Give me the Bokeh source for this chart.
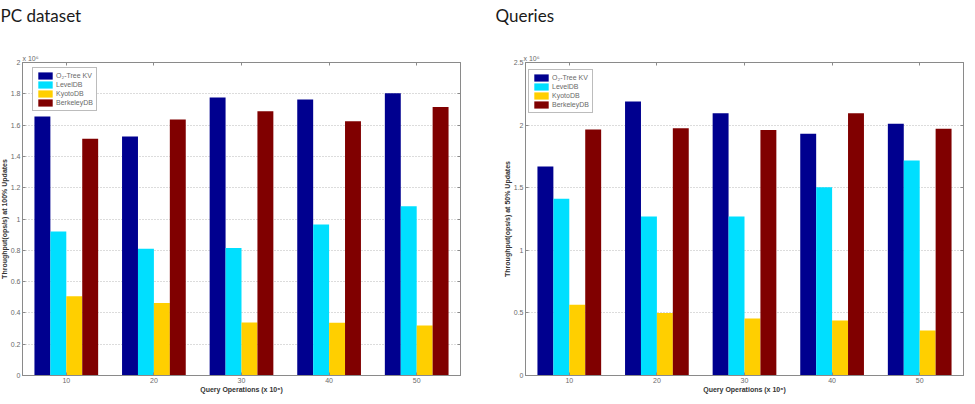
from bokeh.plotting import figure
from bokeh.layouts import row, column
from bokeh.models import (Range1d, FactorRange, FixedTicker, CustomJSTickFormatter, Legend,
                          LegendItem, Title, Label, LinearAxis, CategoricalAxis, ColumnDataSource)
from bokeh.transform import dodge
from bokeh.embed import file_html
from bokeh.resources import INLINE

categories = ["10", "20", "30", "40", "50"]
series = ["O\u2082-Tree KV", "LevelDB", "KyotoDB", "BerkeleyDB"]
colors = ["#00008F", "#00DFFF", "#FFCF00", "#800000"]

# Throughput (x 10^6 ops/s) at 100% updates
upd100_o2tree = [1.655, 1.527, 1.776, 1.763, 1.804]
upd100_leveldb = [0.920, 0.810, 0.815, 0.965, 1.082]
upd100_kyotodb = [0.507, 0.464, 0.339, 0.337, 0.320]
upd100_berkeleydb = [1.512, 1.636, 1.689, 1.625, 1.715]

# Throughput (x 10^6 ops/s) at 50% updates
upd50_o2tree = [1.669, 2.188, 2.095, 1.930, 2.010]
upd50_leveldb = [1.411, 1.270, 1.270, 1.504, 1.717]
upd50_kyotodb = [0.565, 0.500, 0.455, 0.440, 0.360]
upd50_berkeleydb = [1.965, 1.975, 1.960, 2.095, 1.970]

yticks_100 = [0, 0.2, 0.4, 0.6, 0.8, 1, 1.2, 1.4, 1.6, 1.8, 2]
yticks_50 = [0, 0.5, 1, 1.5, 2, 2.5]

captions = ["PC dataset", "Queries"]

FONT = "Liberation Sans"
GRAY = "#6a6a6a"
AXC = "#8a8a8a"
FRAME_H = 313
STRIP_H = 40


def make_chart(vals, yticks, ylabel, width, b_left, b_right, leg_dx, leg_dy, exp_dx):
    src = ColumnDataSource(dict(cat=categories, s0=vals[0], s1=vals[1], s2=vals[2], s3=vals[3]))
    p = figure(width=width, height=404 - STRIP_H, x_range=FactorRange(factors=categories),
               y_range=Range1d(yticks[0], yticks[-1]), title=None,
               output_backend="svg", toolbar_location=None,
               min_border_left=b_left, min_border_right=b_right,
               min_border_top=62 - STRIP_H, min_border_bottom=29)
    p.outline_line_color = AXC
    p.background_fill_color = "white"
    p.border_fill_color = "white"
    p.xgrid.grid_line_color = None
    p.ygrid.grid_line_color = "#b8b8b8"
    p.ygrid.grid_line_dash = "1 2"
    p.ygrid.ticker = FixedTicker(ticks=yticks)

    bw = 1.0 / 5.5
    items = []
    for j in range(4):
        r = p.vbar(x=dodge("cat", (j - 1.5) * bw, range=p.x_range), top="s%d" % j,
                   width=bw, source=src, fill_color=colors[j], line_color=None)
        items.append(LegendItem(label=series[j], renderers=[r]))

    fmt = CustomJSTickFormatter(code="return String(+tick.toFixed(2))")

    ya = p.yaxis[0]
    ya.ticker = FixedTicker(ticks=yticks)
    ya.formatter = fmt
    xa = p.xaxis[0]
    for ax in (xa, ya):
        ax.axis_line_color = AXC
        ax.major_tick_line_color = AXC
        ax.major_tick_in = 3
        ax.major_tick_out = 0
        ax.minor_tick_line_color = None
        ax.major_label_text_font = FONT
        ax.major_label_text_font_size = "7px"
        ax.major_label_text_color = GRAY
        ax.axis_label_text_font = FONT
        ax.axis_label_text_font_size = "7px"
        ax.axis_label_text_font_style = "bold"
        ax.axis_label_text_color = "#333333"
    ya.axis_label = ylabel
    ya.major_label_standoff = 2
    ya.axis_label_standoff = 0
    xa.axis_label = "Query Operations (x 10\u2076)"
    xa.major_label_standoff = 2
    xa.axis_label_standoff = 0

    # top / right axes with inward ticks and no visible labels
    ra = LinearAxis(ticker=FixedTicker(ticks=yticks), formatter=fmt)
    ta = CategoricalAxis()
    for ax in (ra, ta):
        ax.axis_line_color = AXC
        ax.major_tick_line_color = AXC
        ax.major_tick_in = 3
        ax.major_tick_out = 0
        ax.minor_tick_line_color = None
        ax.major_label_standoff = 0
        ax.major_label_text_font_size = "1px"
        ax.major_label_text_color = None
    p.add_layout(ra, "right")
    p.add_layout(ta, "above")

    # exponent marker above the top-left corner
    p.add_layout(Title(text="x 10\u2076", align="left", offset=exp_dx, standoff=2,
                       text_font=FONT, text_font_size="7px", text_font_style="normal",
                       text_color=GRAY), "above")

    leg = Legend(items=items, location=(leg_dx, FRAME_H - leg_dy - 44), margin=0,
                 padding=3, spacing=0, glyph_width=18, glyph_height=9,
                 label_height=9, label_standoff=2,
                 label_text_font=FONT, label_text_font_size="7px",
                 label_text_color=GRAY, border_line_color="#7a7a7a",
                 background_fill_color="white", background_fill_alpha=1.0)
    p.add_layout(leg)
    return p


# caption strip (fragments of the paper's figure captions)
strip = figure(width=975, height=STRIP_H, x_range=Range1d(0, 975), y_range=Range1d(0, STRIP_H),
               output_backend="svg", toolbar_location=None, title=None,
               x_axis_location=None, y_axis_location=None,
               min_border_left=0, min_border_right=0, min_border_top=0, min_border_bottom=0)
strip.grid.visible = False
strip.outline_line_color = None
for cap, cx in zip(captions, [0, 495]):
    strip.add_layout(Label(x=cx, y=STRIP_H - 4, x_units="screen", y_units="screen",
                           text=cap, text_font="Lato", text_font_size="17px",
                           text_color="#1a1a1a", text_baseline="top"))

# the left axis needs a little more room than the reference's 22 px margin,
# so the left figure is widened and pulled left by the difference
SHIFT = 5
p1 = make_chart([upd100_o2tree, upd100_leveldb, upd100_kyotodb, upd100_berkeleydb],
                yticks_100, "Throughput(ops/s) at 100% Updates",
                487 + SHIFT, 22 + SHIFT, 27, 10, 5, 0)
p1.margin = (0, 0, 0, -SHIFT)
p2 = make_chart([upd50_o2tree, upd50_leveldb, upd50_kyotodb, upd50_berkeleydb],
                yticks_50, "Throughput(ops/s) at 50% Updates",
                488, 38, 12, 3, 7, -2)

layout = column(strip, row(p1, p2, spacing=0), spacing=0)
open("out.html", "w").write(file_html(layout, INLINE))
